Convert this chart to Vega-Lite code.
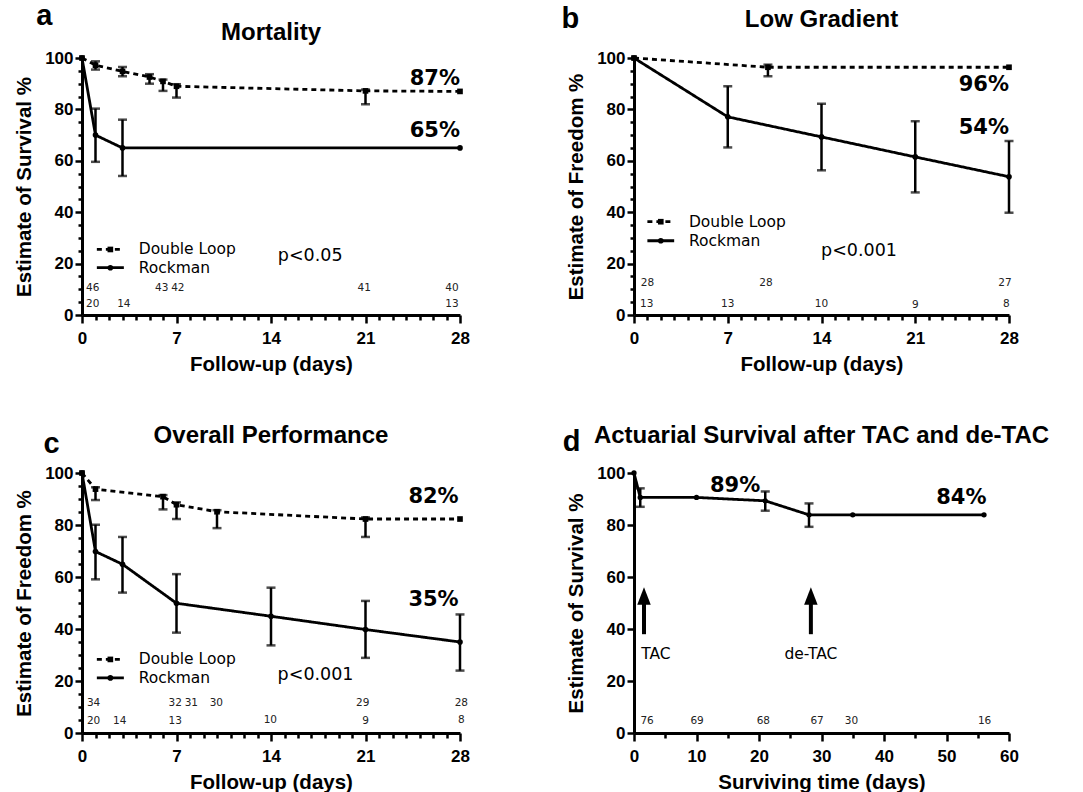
{
  "$schema": "https://vega.github.io/schema/vega-lite/v6.json",
  "padding": {"left": 14, "top": 2, "right": 5, "bottom": 0},
  "background": "white",
  "datasets": {
    "km": [
      {"p": "a", "g": "Double Loop", "t": 0, "s": 100},
      {"p": "a", "g": "Double Loop", "t": 1, "s": 97.2},
      {"p": "a", "g": "Double Loop", "t": 3, "s": 94.8},
      {"p": "a", "g": "Double Loop", "t": 5, "s": 92.6},
      {"p": "a", "g": "Double Loop", "t": 6, "s": 90.9},
      {"p": "a", "g": "Double Loop", "t": 7, "s": 89},
      {"p": "a", "g": "Double Loop", "t": 21, "s": 87.2},
      {"p": "a", "g": "Double Loop", "t": 28, "s": 87},
      {"p": "a", "g": "Rockman", "t": 0, "s": 100},
      {"p": "a", "g": "Rockman", "t": 1, "s": 70},
      {"p": "a", "g": "Rockman", "t": 3, "s": 65},
      {"p": "a", "g": "Rockman", "t": 28, "s": 65},
      {"p": "b", "g": "Double Loop", "t": 0, "s": 100},
      {"p": "b", "g": "Double Loop", "t": 10, "s": 96.4},
      {"p": "b", "g": "Double Loop", "t": 28, "s": 96.4},
      {"p": "b", "g": "Rockman", "t": 0, "s": 100},
      {"p": "b", "g": "Rockman", "t": 7, "s": 77.1},
      {"p": "b", "g": "Rockman", "t": 14, "s": 69.3},
      {"p": "b", "g": "Rockman", "t": 21, "s": 61.5},
      {"p": "b", "g": "Rockman", "t": 28, "s": 53.8},
      {"p": "c", "g": "Double Loop", "t": 0, "s": 100},
      {"p": "c", "g": "Double Loop", "t": 1, "s": 93.8},
      {"p": "c", "g": "Double Loop", "t": 6, "s": 90.9},
      {"p": "c", "g": "Double Loop", "t": 7, "s": 87.8},
      {"p": "c", "g": "Double Loop", "t": 10, "s": 85.1},
      {"p": "c", "g": "Double Loop", "t": 21, "s": 82.3},
      {"p": "c", "g": "Double Loop", "t": 28, "s": 82.3},
      {"p": "c", "g": "Rockman", "t": 0, "s": 100},
      {"p": "c", "g": "Rockman", "t": 1, "s": 69.8},
      {"p": "c", "g": "Rockman", "t": 3, "s": 64.9},
      {"p": "c", "g": "Rockman", "t": 7, "s": 49.9},
      {"p": "c", "g": "Rockman", "t": 14, "s": 44.9},
      {"p": "c", "g": "Rockman", "t": 21, "s": 39.8},
      {"p": "c", "g": "Rockman", "t": 28, "s": 35},
      {"p": "d", "g": "All", "t": 0, "s": 100},
      {"p": "d", "g": "All", "t": 1, "s": 90.6},
      {"p": "d", "g": "All", "t": 10, "s": 90.6},
      {"p": "d", "g": "All", "t": 21, "s": 89.3},
      {"p": "d", "g": "All", "t": 28, "s": 83.9},
      {"p": "d", "g": "All", "t": 35, "s": 83.9},
      {"p": "d", "g": "All", "t": 56, "s": 83.9}
    ],
    "err": [
      {"p": "a", "t": 1, "lo": 95.5, "hi": 98.7},
      {"p": "a", "t": 3, "lo": 92.9, "hi": 96.5},
      {"p": "a", "t": 5, "lo": 90, "hi": 93.7},
      {"p": "a", "t": 6, "lo": 87.2, "hi": 91.6},
      {"p": "a", "t": 7, "lo": 84.6, "hi": 89.8},
      {"p": "a", "t": 21, "lo": 82, "hi": 87.7},
      {"p": "a", "t": 1, "lo": 59.6, "hi": 80.3},
      {"p": "a", "t": 3, "lo": 54.1, "hi": 76},
      {"p": "b", "t": 10, "lo": 92.9, "hi": 97.4},
      {"p": "b", "t": 7, "lo": 65.2, "hi": 89},
      {"p": "b", "t": 14, "lo": 56.3, "hi": 82.2},
      {"p": "b", "t": 21, "lo": 47.7, "hi": 75.4},
      {"p": "b", "t": 28, "lo": 39.8, "hi": 67.7},
      {"p": "c", "t": 1, "lo": 89.6, "hi": 94.5},
      {"p": "c", "t": 6, "lo": 86, "hi": 91.5},
      {"p": "c", "t": 7, "lo": 82.3, "hi": 88.7},
      {"p": "c", "t": 10, "lo": 78.8, "hi": 85.7},
      {"p": "c", "t": 21, "lo": 75.4, "hi": 82.9},
      {"p": "c", "t": 1, "lo": 59.1, "hi": 80.1},
      {"p": "c", "t": 3, "lo": 54, "hi": 75.4},
      {"p": "c", "t": 7, "lo": 38.6, "hi": 61.1},
      {"p": "c", "t": 14, "lo": 33.7, "hi": 55.9},
      {"p": "c", "t": 21, "lo": 28.9, "hi": 50.8},
      {"p": "c", "t": 28, "lo": 24, "hi": 45.6},
      {"p": "d", "t": 1, "lo": 87, "hi": 94.1},
      {"p": "d", "t": 21, "lo": 85.5, "hi": 92.9},
      {"p": "d", "t": 28, "lo": 79.3, "hi": 88.3}
    ],
    "risk": [
      {"p": "a", "t": 0.8, "y": 10.4, "n": "46"},
      {"p": "a", "t": 5.9, "y": 10.4, "n": "43"},
      {"p": "a", "t": 7.1, "y": 10.4, "n": "42"},
      {"p": "a", "t": 20.9, "y": 10.4, "n": "41"},
      {"p": "a", "t": 27.4, "y": 10.4, "n": "40"},
      {"p": "a", "t": 0.8, "y": 4.3, "n": "20"},
      {"p": "a", "t": 3.1, "y": 4.3, "n": "14"},
      {"p": "a", "t": 27.4, "y": 4.3, "n": "13"},
      {"p": "b", "t": 1.0, "y": 12.3, "n": "28"},
      {"p": "b", "t": 9.85, "y": 12.3, "n": "28"},
      {"p": "b", "t": 27.7, "y": 12.3, "n": "27"},
      {"p": "b", "t": 0.95, "y": 4.3, "n": "13"},
      {"p": "b", "t": 7, "y": 4.3, "n": "13"},
      {"p": "b", "t": 14, "y": 4.3, "n": "10"},
      {"p": "b", "t": 21, "y": 4.0, "n": "9"},
      {"p": "b", "t": 27.8, "y": 4.3, "n": "8"},
      {"p": "c", "t": 0.86, "y": 11.6, "n": "34"},
      {"p": "c", "t": 6.9, "y": 11.6, "n": "32"},
      {"p": "c", "t": 8.1, "y": 11.6, "n": "31"},
      {"p": "c", "t": 9.95, "y": 11.6, "n": "30"},
      {"p": "c", "t": 20.8, "y": 11.6, "n": "29"},
      {"p": "c", "t": 28.1, "y": 11.6, "n": "28"},
      {"p": "c", "t": 0.86, "y": 4.8, "n": "20"},
      {"p": "c", "t": 2.8, "y": 4.8, "n": "14"},
      {"p": "c", "t": 6.9, "y": 4.8, "n": "13"},
      {"p": "c", "t": 13.95, "y": 5.1, "n": "10"},
      {"p": "c", "t": 21, "y": 4.6, "n": "9"},
      {"p": "c", "t": 28.1, "y": 5.1, "n": "8"},
      {"p": "d", "t": 2.1, "y": 4.5, "n": "76"},
      {"p": "d", "t": 10.1, "y": 4.5, "n": "69"},
      {"p": "d", "t": 20.7, "y": 4.5, "n": "68"},
      {"p": "d", "t": 29.3, "y": 4.5, "n": "67"},
      {"p": "d", "t": 34.8, "y": 4.5, "n": "30"},
      {"p": "d", "t": 56.1, "y": 4.5, "n": "16"}
    ],
    "pct": [
      {"p": "a", "t": 28, "y": 91.7, "label": "87%"},
      {"p": "a", "t": 28, "y": 71.5, "label": "65%"},
      {"p": "b", "t": 28, "y": 89.4, "label": "96%"},
      {"p": "b", "t": 28, "y": 72.8, "label": "54%"},
      {"p": "c", "t": 27.9, "y": 90.6, "label": "82%"},
      {"p": "c", "t": 27.9, "y": 51.2, "label": "35%"},
      {"p": "d", "t": 20.2, "y": 95.1, "label": "89%"},
      {"p": "d", "t": 56.4, "y": 90.2, "label": "84%"}
    ],
    "note": [
      {"p": "a", "t": 16.9, "y": 23, "label": "p<0.05"},
      {"p": "b", "t": 16.8, "y": 24.8, "label": "p<0.001"},
      {"p": "c", "t": 17.3, "y": 22.5, "label": "p<0.001"},
      {"p": "d", "t": 3.5, "y": 30.2, "label": "TAC"},
      {"p": "d", "t": 28.3, "y": 30.2, "label": "de-TAC"}
    ],
    "leg": [
      {"p": "a", "g": "Double Loop", "x1": 1.1, "x2": 3.1, "xm": 2.1, "xt": 4.2, "y": 25.5},
      {"p": "a", "g": "Rockman", "x1": 1.1, "x2": 3.1, "xm": 2.1, "xt": 4.2, "y": 18.4},
      {"p": "b", "g": "Double Loop", "x1": 1.0, "x2": 3.0, "xm": 2.0, "xt": 4.1, "y": 36.3},
      {"p": "b", "g": "Rockman", "x1": 1.0, "x2": 3.0, "xm": 2.0, "xt": 4.1, "y": 28.9},
      {"p": "c", "g": "Double Loop", "x1": 1.1, "x2": 3.1, "xm": 2.1, "xt": 4.2, "y": 28.3},
      {"p": "c", "g": "Rockman", "x1": 1.1, "x2": 3.1, "xm": 2.1, "xt": 4.2, "y": 21.2}
    ],
    "arrows": [
      {"p": "d", "t": 1.6, "y1": 38, "y2": 50, "yh": 52.7},
      {"p": "d", "t": 28.3, "y1": 38, "y2": 50, "yh": 52.7}
    ],
    "letters": [
      {"p": "a", "t": -2.8, "y": 112.8, "label": "a"},
      {"p": "b", "t": -4.75, "y": 111.7, "label": "b"},
      {"p": "c", "t": -2.25, "y": 107.8, "label": "c"},
      {"p": "d", "t": -10, "y": 108.5, "label": "d"}
    ],
    "titles": [
      {"p": "a", "t": 14, "y": 107, "label": "Mortality"},
      {"p": "b", "t": 14, "y": 112.2, "label": "Low Gradient"},
      {"p": "c", "t": 14, "y": 111.7, "label": "Overall Performance"},
      {"p": "d", "t": 30, "y": 111.7, "label": "Actuarial Survival after TAC and de-TAC"}
    ]
  },
  "columns": 2,
  "spacing": {"row": 48, "column": 91},
  "concat": [
    {
      "width": 378, "height": 257,
      "layer": [
        {"data": {"name": "km"}, "transform": [{"filter": "datum.p === 'a'"}],
         "mark": {"type": "line", "strokeWidth": 2.8, "color": "black"},
         "encoding": {
           "x": {"field": "t", "type": "quantitative", "scale": {"domain": [0, 28], "nice": false, "zero": false},
                 "axis": {"title": "Follow-up (days)", "format": "d", "tickCount": 100, "values": [0,1,2,3,4,5,6,7,8,9,10,11,12,13,14,15,16,17,18,19,20,21,22,23,24,25,26,27,28],
                          "labelExpr": "datum.value % 7 === 0 ? datum.label : ''", "labelOverlap": false,
                          "tickSize": {"condition": {"test": "datum.value % 7 === 0", "value": 8}, "value": 5}}},
           "y": {"field": "s", "type": "quantitative", "scale": {"domain": [0, 100], "nice": false},
                 "axis": {"title": "Estimate of Survival %", "format": "d", "tickCount": 100, "values": [0,5,10,15,20,25,30,35,40,45,50,55,60,65,70,75,80,85,90,95,100],
                          "labelExpr": "datum.value % 20 === 0 ? datum.label : ''", "labelOverlap": false,
                          "tickSize": {"condition": {"test": "datum.value % 20 === 0", "value": 7}, "value": 4}}},
           "strokeDash": {"field": "g", "type": "nominal", "scale": {"domain": ["Double Loop", "Rockman", "All"], "range": [[5, 4], [1, 0], [1, 0]]}, "legend": null}
         }},
        {"data": {"name": "km"}, "transform": [{"filter": "datum.p === 'a'"}],
         "mark": {"type": "point", "filled": true, "color": "black", "opacity": 1, "size": 32},
         "encoding": {"x": {"field": "t", "type": "quantitative"}, "y": {"field": "s", "type": "quantitative"},
           "shape": {"field": "g", "type": "nominal", "scale": {"domain": ["Double Loop", "Rockman", "All"], "range": ["square", "circle", "circle"]}, "legend": null}}},
        {"data": {"name": "err"}, "transform": [{"filter": "datum.p === 'a'"}],
         "mark": {"type": "errorbar", "ticks": {"size": 9, "thickness": 2.5, "color": "black"}, "rule": {"strokeWidth": 2.5, "color": "black"}},
         "encoding": {"x": {"field": "t", "type": "quantitative", "title": "Follow-up (days)"}, "y": {"field": "lo", "type": "quantitative", "title": "Estimate of Survival %"}, "y2": {"field": "hi"}}},
        {"data": {"name": "risk"}, "transform": [{"filter": "datum.p === 'a'"}],
         "mark": {"type": "text", "font": "DejaVu Sans", "fontSize": 10.5, "align": "center", "baseline": "middle", "color": "#222"},
         "encoding": {"x": {"field": "t", "type": "quantitative"}, "y": {"field": "y", "type": "quantitative"}, "text": {"field": "n"}}},
        {"data": {"name": "pct"}, "transform": [{"filter": "datum.p === 'a'"}],
         "mark": {"type": "text", "font": "DejaVu Sans", "fontSize": 21, "fontWeight": "bold", "align": "right", "baseline": "middle"},
         "encoding": {"x": {"field": "t", "type": "quantitative"}, "y": {"field": "y", "type": "quantitative"}, "text": {"field": "label"}}},
        {"data": {"name": "note"}, "transform": [{"filter": "datum.p === 'a'"}],
         "mark": {"type": "text", "font": "DejaVu Sans", "fontSize": 17.5, "align": "center", "baseline": "middle"},
         "encoding": {"x": {"field": "t", "type": "quantitative"}, "y": {"field": "y", "type": "quantitative"}, "text": {"field": "label"}}},
        {"data": {"name": "leg"}, "transform": [{"filter": "datum.p === 'a'"}],
         "mark": {"type": "rule", "strokeWidth": 2.8, "color": "black"},
         "encoding": {"x": {"field": "x1", "type": "quantitative"}, "x2": {"field": "x2"}, "y": {"field": "y", "type": "quantitative"},
           "strokeDash": {"field": "g", "type": "nominal", "legend": null}}},
        {"data": {"name": "leg"}, "transform": [{"filter": "datum.p === 'a'"}],
         "mark": {"type": "point", "filled": true, "color": "black", "opacity": 1, "size": 32},
         "encoding": {"x": {"field": "xm", "type": "quantitative"}, "y": {"field": "y", "type": "quantitative"},
           "shape": {"field": "g", "type": "nominal", "legend": null}}},
        {"data": {"name": "leg"}, "transform": [{"filter": "datum.p === 'a'"}],
         "mark": {"type": "text", "font": "DejaVu Sans", "fontSize": 15.5, "align": "left", "baseline": "middle"},
         "encoding": {"x": {"field": "xt", "type": "quantitative"}, "y": {"field": "y", "type": "quantitative"}, "text": {"field": "g"}}},
        {"data": {"name": "letters"}, "transform": [{"filter": "datum.p === 'a'"}],
         "mark": {"type": "text", "font": "Liberation Sans", "fontSize": 29, "fontWeight": "bold", "align": "center", "baseline": "alphabetic"},
         "encoding": {"x": {"field": "t", "type": "quantitative"}, "y": {"field": "y", "type": "quantitative"}, "text": {"field": "label"}}},
        {"data": {"name": "titles"}, "transform": [{"filter": "datum.p === 'a'"}],
         "mark": {"type": "text", "font": "Liberation Sans", "fontSize": 24, "fontWeight": "bold", "align": "center", "baseline": "alphabetic"},
         "encoding": {"x": {"field": "t", "type": "quantitative"}, "y": {"field": "y", "type": "quantitative"}, "text": {"field": "label"}}}
      ]
    },
    {
      "width": 375, "height": 257,
      "layer": [
        {"data": {"name": "km"}, "transform": [{"filter": "datum.p === 'b'"}],
         "mark": {"type": "line", "strokeWidth": 2.8, "color": "black"},
         "encoding": {
           "x": {"field": "t", "type": "quantitative", "scale": {"domain": [0, 28], "nice": false, "zero": false},
                 "axis": {"title": "Follow-up (days)", "format": "d", "tickCount": 100, "values": [0,1,2,3,4,5,6,7,8,9,10,11,12,13,14,15,16,17,18,19,20,21,22,23,24,25,26,27,28],
                          "labelExpr": "datum.value % 7 === 0 ? datum.label : ''", "labelOverlap": false,
                          "tickSize": {"condition": {"test": "datum.value % 7 === 0", "value": 8}, "value": 5}}},
           "y": {"field": "s", "type": "quantitative", "scale": {"domain": [0, 100], "nice": false},
                 "axis": {"title": "Estimate of Freedom %", "format": "d", "tickCount": 100, "values": [0,5,10,15,20,25,30,35,40,45,50,55,60,65,70,75,80,85,90,95,100],
                          "labelExpr": "datum.value % 20 === 0 ? datum.label : ''", "labelOverlap": false,
                          "tickSize": {"condition": {"test": "datum.value % 20 === 0", "value": 7}, "value": 4}}},
           "strokeDash": {"field": "g", "type": "nominal", "scale": {"domain": ["Double Loop", "Rockman", "All"], "range": [[5, 4], [1, 0], [1, 0]]}, "legend": null}
         }},
        {"data": {"name": "km"}, "transform": [{"filter": "datum.p === 'b'"}],
         "mark": {"type": "point", "filled": true, "color": "black", "opacity": 1, "size": 32},
         "encoding": {"x": {"field": "t", "type": "quantitative"}, "y": {"field": "s", "type": "quantitative"},
           "shape": {"field": "g", "type": "nominal", "scale": {"domain": ["Double Loop", "Rockman", "All"], "range": ["square", "circle", "circle"]}, "legend": null}}},
        {"data": {"name": "err"}, "transform": [{"filter": "datum.p === 'b'"}],
         "mark": {"type": "errorbar", "ticks": {"size": 9, "thickness": 2.5, "color": "black"}, "rule": {"strokeWidth": 2.5, "color": "black"}},
         "encoding": {"x": {"field": "t", "type": "quantitative", "title": "Follow-up (days)"}, "y": {"field": "lo", "type": "quantitative", "title": "Estimate of Freedom %"}, "y2": {"field": "hi"}}},
        {"data": {"name": "risk"}, "transform": [{"filter": "datum.p === 'b'"}],
         "mark": {"type": "text", "font": "DejaVu Sans", "fontSize": 10.5, "align": "center", "baseline": "middle", "color": "#222"},
         "encoding": {"x": {"field": "t", "type": "quantitative"}, "y": {"field": "y", "type": "quantitative"}, "text": {"field": "n"}}},
        {"data": {"name": "pct"}, "transform": [{"filter": "datum.p === 'b'"}],
         "mark": {"type": "text", "font": "DejaVu Sans", "fontSize": 21, "fontWeight": "bold", "align": "right", "baseline": "middle"},
         "encoding": {"x": {"field": "t", "type": "quantitative"}, "y": {"field": "y", "type": "quantitative"}, "text": {"field": "label"}}},
        {"data": {"name": "note"}, "transform": [{"filter": "datum.p === 'b'"}],
         "mark": {"type": "text", "font": "DejaVu Sans", "fontSize": 17.5, "align": "center", "baseline": "middle"},
         "encoding": {"x": {"field": "t", "type": "quantitative"}, "y": {"field": "y", "type": "quantitative"}, "text": {"field": "label"}}},
        {"data": {"name": "leg"}, "transform": [{"filter": "datum.p === 'b'"}],
         "mark": {"type": "rule", "strokeWidth": 2.8, "color": "black"},
         "encoding": {"x": {"field": "x1", "type": "quantitative"}, "x2": {"field": "x2"}, "y": {"field": "y", "type": "quantitative"},
           "strokeDash": {"field": "g", "type": "nominal", "legend": null}}},
        {"data": {"name": "leg"}, "transform": [{"filter": "datum.p === 'b'"}],
         "mark": {"type": "point", "filled": true, "color": "black", "opacity": 1, "size": 32},
         "encoding": {"x": {"field": "xm", "type": "quantitative"}, "y": {"field": "y", "type": "quantitative"},
           "shape": {"field": "g", "type": "nominal", "legend": null}}},
        {"data": {"name": "leg"}, "transform": [{"filter": "datum.p === 'b'"}],
         "mark": {"type": "text", "font": "DejaVu Sans", "fontSize": 15.5, "align": "left", "baseline": "middle"},
         "encoding": {"x": {"field": "xt", "type": "quantitative"}, "y": {"field": "y", "type": "quantitative"}, "text": {"field": "g"}}},
        {"data": {"name": "letters"}, "transform": [{"filter": "datum.p === 'b'"}],
         "mark": {"type": "text", "font": "Liberation Sans", "fontSize": 29, "fontWeight": "bold", "align": "center", "baseline": "alphabetic"},
         "encoding": {"x": {"field": "t", "type": "quantitative"}, "y": {"field": "y", "type": "quantitative"}, "text": {"field": "label"}}},
        {"data": {"name": "titles"}, "transform": [{"filter": "datum.p === 'b'"}],
         "mark": {"type": "text", "font": "Liberation Sans", "fontSize": 24, "fontWeight": "bold", "align": "center", "baseline": "alphabetic"},
         "encoding": {"x": {"field": "t", "type": "quantitative"}, "y": {"field": "y", "type": "quantitative"}, "text": {"field": "label"}}}
      ]
    },
    {
      "width": 378, "height": 260,
      "layer": [
        {"data": {"name": "km"}, "transform": [{"filter": "datum.p === 'c'"}],
         "mark": {"type": "line", "strokeWidth": 2.8, "color": "black"},
         "encoding": {
           "x": {"field": "t", "type": "quantitative", "scale": {"domain": [0, 28], "nice": false, "zero": false},
                 "axis": {"title": "Follow-up (days)", "format": "d", "tickCount": 100, "values": [0,1,2,3,4,5,6,7,8,9,10,11,12,13,14,15,16,17,18,19,20,21,22,23,24,25,26,27,28],
                          "labelExpr": "datum.value % 7 === 0 ? datum.label : ''", "labelOverlap": false,
                          "tickSize": {"condition": {"test": "datum.value % 7 === 0", "value": 8}, "value": 5}}},
           "y": {"field": "s", "type": "quantitative", "scale": {"domain": [0, 100], "nice": false},
                 "axis": {"title": "Estimate of Freedom %", "format": "d", "tickCount": 100, "values": [0,5,10,15,20,25,30,35,40,45,50,55,60,65,70,75,80,85,90,95,100],
                          "labelExpr": "datum.value % 20 === 0 ? datum.label : ''", "labelOverlap": false,
                          "tickSize": {"condition": {"test": "datum.value % 20 === 0", "value": 7}, "value": 4}}},
           "strokeDash": {"field": "g", "type": "nominal", "scale": {"domain": ["Double Loop", "Rockman", "All"], "range": [[5, 4], [1, 0], [1, 0]]}, "legend": null}
         }},
        {"data": {"name": "km"}, "transform": [{"filter": "datum.p === 'c'"}],
         "mark": {"type": "point", "filled": true, "color": "black", "opacity": 1, "size": 32},
         "encoding": {"x": {"field": "t", "type": "quantitative"}, "y": {"field": "s", "type": "quantitative"},
           "shape": {"field": "g", "type": "nominal", "scale": {"domain": ["Double Loop", "Rockman", "All"], "range": ["square", "circle", "circle"]}, "legend": null}}},
        {"data": {"name": "err"}, "transform": [{"filter": "datum.p === 'c'"}],
         "mark": {"type": "errorbar", "ticks": {"size": 9, "thickness": 2.5, "color": "black"}, "rule": {"strokeWidth": 2.5, "color": "black"}},
         "encoding": {"x": {"field": "t", "type": "quantitative", "title": "Follow-up (days)"}, "y": {"field": "lo", "type": "quantitative", "title": "Estimate of Freedom %"}, "y2": {"field": "hi"}}},
        {"data": {"name": "risk"}, "transform": [{"filter": "datum.p === 'c'"}],
         "mark": {"type": "text", "font": "DejaVu Sans", "fontSize": 10.5, "align": "center", "baseline": "middle", "color": "#222"},
         "encoding": {"x": {"field": "t", "type": "quantitative"}, "y": {"field": "y", "type": "quantitative"}, "text": {"field": "n"}}},
        {"data": {"name": "pct"}, "transform": [{"filter": "datum.p === 'c'"}],
         "mark": {"type": "text", "font": "DejaVu Sans", "fontSize": 21, "fontWeight": "bold", "align": "right", "baseline": "middle"},
         "encoding": {"x": {"field": "t", "type": "quantitative"}, "y": {"field": "y", "type": "quantitative"}, "text": {"field": "label"}}},
        {"data": {"name": "note"}, "transform": [{"filter": "datum.p === 'c'"}],
         "mark": {"type": "text", "font": "DejaVu Sans", "fontSize": 17.5, "align": "center", "baseline": "middle"},
         "encoding": {"x": {"field": "t", "type": "quantitative"}, "y": {"field": "y", "type": "quantitative"}, "text": {"field": "label"}}},
        {"data": {"name": "leg"}, "transform": [{"filter": "datum.p === 'c'"}],
         "mark": {"type": "rule", "strokeWidth": 2.8, "color": "black"},
         "encoding": {"x": {"field": "x1", "type": "quantitative"}, "x2": {"field": "x2"}, "y": {"field": "y", "type": "quantitative"},
           "strokeDash": {"field": "g", "type": "nominal", "legend": null}}},
        {"data": {"name": "leg"}, "transform": [{"filter": "datum.p === 'c'"}],
         "mark": {"type": "point", "filled": true, "color": "black", "opacity": 1, "size": 32},
         "encoding": {"x": {"field": "xm", "type": "quantitative"}, "y": {"field": "y", "type": "quantitative"},
           "shape": {"field": "g", "type": "nominal", "legend": null}}},
        {"data": {"name": "leg"}, "transform": [{"filter": "datum.p === 'c'"}],
         "mark": {"type": "text", "font": "DejaVu Sans", "fontSize": 15.5, "align": "left", "baseline": "middle"},
         "encoding": {"x": {"field": "xt", "type": "quantitative"}, "y": {"field": "y", "type": "quantitative"}, "text": {"field": "g"}}},
        {"data": {"name": "letters"}, "transform": [{"filter": "datum.p === 'c'"}],
         "mark": {"type": "text", "font": "Liberation Sans", "fontSize": 29, "fontWeight": "bold", "align": "center", "baseline": "alphabetic"},
         "encoding": {"x": {"field": "t", "type": "quantitative"}, "y": {"field": "y", "type": "quantitative"}, "text": {"field": "label"}}},
        {"data": {"name": "titles"}, "transform": [{"filter": "datum.p === 'c'"}],
         "mark": {"type": "text", "font": "Liberation Sans", "fontSize": 24, "fontWeight": "bold", "align": "center", "baseline": "alphabetic"},
         "encoding": {"x": {"field": "t", "type": "quantitative"}, "y": {"field": "y", "type": "quantitative"}, "text": {"field": "label"}}}
      ]
    },
    {
      "width": 375, "height": 260,
      "layer": [
        {"data": {"name": "km"}, "transform": [{"filter": "datum.p === 'd'"}],
         "mark": {"type": "line", "strokeWidth": 2.8, "color": "black"},
         "encoding": {
           "x": {"field": "t", "type": "quantitative", "scale": {"domain": [0, 60], "nice": false, "zero": false},
                 "axis": {"title": "Surviving time (days)", "format": "d", "tickCount": 100, "values": [0,5,10,15,20,25,30,35,40,45,50,55,60],
                          "labelExpr": "datum.value % 10 === 0 ? datum.label : ''", "labelOverlap": false,
                          "tickSize": {"condition": {"test": "datum.value % 10 === 0", "value": 8}, "value": 5}}},
           "y": {"field": "s", "type": "quantitative", "scale": {"domain": [0, 100], "nice": false},
                 "axis": {"title": "Estimate of Survival %", "format": "d", "tickCount": 100, "values": [0,20,40,60,80,100], "tickSize": 7, "labelOverlap": false}},
           "strokeDash": {"field": "g", "type": "nominal", "scale": {"domain": ["Double Loop", "Rockman", "All"], "range": [[5, 4], [1, 0], [1, 0]]}, "legend": null}
         }},
        {"data": {"name": "km"}, "transform": [{"filter": "datum.p === 'd'"}],
         "mark": {"type": "point", "filled": true, "color": "black", "opacity": 1, "size": 28},
         "encoding": {"x": {"field": "t", "type": "quantitative"}, "y": {"field": "s", "type": "quantitative"},
           "shape": {"field": "g", "type": "nominal", "scale": {"domain": ["Double Loop", "Rockman", "All"], "range": ["square", "circle", "circle"]}, "legend": null}}},
        {"data": {"name": "err"}, "transform": [{"filter": "datum.p === 'd'"}],
         "mark": {"type": "errorbar", "ticks": {"size": 9, "thickness": 2.5, "color": "black"}, "rule": {"strokeWidth": 2.5, "color": "black"}},
         "encoding": {"x": {"field": "t", "type": "quantitative", "title": "Surviving time (days)"}, "y": {"field": "lo", "type": "quantitative", "title": "Estimate of Survival %"}, "y2": {"field": "hi"}}},
        {"data": {"name": "risk"}, "transform": [{"filter": "datum.p === 'd'"}],
         "mark": {"type": "text", "font": "DejaVu Sans", "fontSize": 10.5, "align": "center", "baseline": "middle", "color": "#222"},
         "encoding": {"x": {"field": "t", "type": "quantitative"}, "y": {"field": "y", "type": "quantitative"}, "text": {"field": "n"}}},
        {"data": {"name": "pct"}, "transform": [{"filter": "datum.p === 'd'"}],
         "mark": {"type": "text", "font": "DejaVu Sans", "fontSize": 21, "fontWeight": "bold", "align": "right", "baseline": "middle"},
         "encoding": {"x": {"field": "t", "type": "quantitative"}, "y": {"field": "y", "type": "quantitative"}, "text": {"field": "label"}}},
        {"data": {"name": "note"}, "transform": [{"filter": "datum.p === 'd'"}],
         "mark": {"type": "text", "font": "DejaVu Sans", "fontSize": 15.5, "align": "center", "baseline": "middle"},
         "encoding": {"x": {"field": "t", "type": "quantitative"}, "y": {"field": "y", "type": "quantitative"}, "text": {"field": "label"}}},
        {"data": {"name": "arrows"},
         "mark": {"type": "rule", "strokeWidth": 4, "color": "black"},
         "encoding": {"x": {"field": "t", "type": "quantitative"}, "y": {"field": "y1", "type": "quantitative"}, "y2": {"field": "y2"}}},
        {"data": {"name": "arrows"},
         "mark": {"type": "point", "filled": true, "color": "black", "opacity": 1, "size": 300, "shape": "M-0.78,1L0.78,1L0,-1Z"},
         "encoding": {"x": {"field": "t", "type": "quantitative"}, "y": {"field": "yh", "type": "quantitative"}}},
        {"data": {"name": "letters"}, "transform": [{"filter": "datum.p === 'd'"}],
         "mark": {"type": "text", "font": "Liberation Sans", "fontSize": 29, "fontWeight": "bold", "align": "center", "baseline": "alphabetic"},
         "encoding": {"x": {"field": "t", "type": "quantitative"}, "y": {"field": "y", "type": "quantitative"}, "text": {"field": "label"}}},
        {"data": {"name": "titles"}, "transform": [{"filter": "datum.p === 'd'"}],
         "mark": {"type": "text", "font": "Liberation Sans", "fontSize": 24, "fontWeight": "bold", "align": "center", "baseline": "alphabetic"},
         "encoding": {"x": {"field": "t", "type": "quantitative"}, "y": {"field": "y", "type": "quantitative"}, "text": {"field": "label"}}}
      ]
    }
  ],
  "config": {
    "view": {"stroke": null},
    "font": "Liberation Sans",
    "axis": {"domainColor": "black", "domainWidth": 3, "tickColor": "black", "tickWidth": 2.5,
             "labelFont": "Liberation Sans", "labelFontSize": 17, "labelFontWeight": "bold", "labelColor": "black",
             "titleFont": "Liberation Sans", "titleFontSize": 20.5, "titleFontWeight": "bold", "titleColor": "black",
             "grid": false, "labelFlush": false, "labelOverlap": false, "labelBound": false},
    "axisX": {"labelPadding": 7, "titlePadding": 8},
    "axisY": {"labelPadding": 2, "titlePadding": 10},
    "text": {"color": "black"}
  }
}
